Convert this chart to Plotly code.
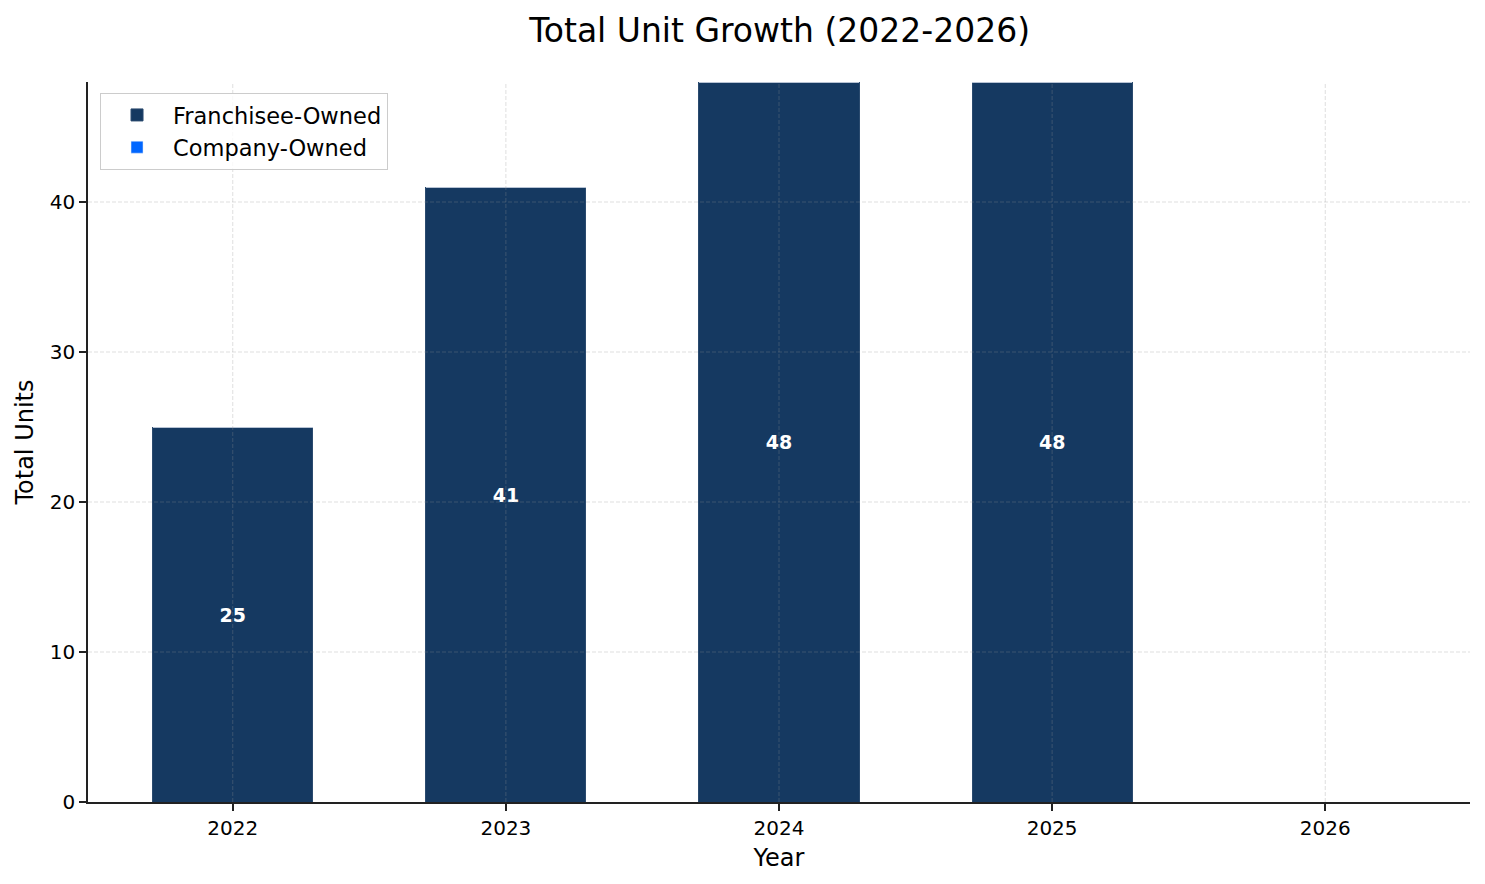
import plotly.graph_objects as go

years = ["2022", "2023", "2024", "2025", "2026"]
franchisee = [25, 41, 48, 48, 0]
company = [0, 0, 0, 0, 0]
y_ticks = [0, 10, 20, 30, 40]

FONT = "DejaVu Sans"
GRID = "rgba(150,150,150,0.3)"

fig = go.Figure()
fig.add_trace(go.Bar(
    x=years, y=franchisee, name="Franchisee-Owned",
    marker=dict(color="#153961", line=dict(color="#2a4a6e", width=1)),
    width=0.586,
    text=[str(v) if v > 0 else "" for v in franchisee],
    textposition="inside", insidetextanchor="middle", textangle=0,
    textfont=dict(family=FONT, size=19, color="white", weight="bold"),
    hoverinfo="x+y",
))
fig.add_trace(go.Bar(
    x=years, y=company, name="Company-Owned",
    marker=dict(color="#0066ff"),
    width=0.586,
    hoverinfo="x+y",
))

# grid lines drawn above the bars, as in the reference (category index positions)
for i, _ in enumerate(years):
    fig.add_shape(type="line", xref="x", yref="paper", x0=i, x1=i, y0=0, y1=1,
                  line=dict(color=GRID, width=1, dash="4px,2px"), layer="above")
for t in y_ticks[1:]:
    fig.add_shape(type="line", xref="paper", yref="y", x0=0, x1=1, y0=t, y1=t,
                  line=dict(color=GRID, width=1, dash="4px,2px"), layer="above")

fig.update_layout(
    barmode="stack",
    width=1485, height=884,
    margin=dict(l=88, r=15, t=82, b=82),
    paper_bgcolor="white", plot_bgcolor="white",
    font=dict(family=FONT, size=20, color="black"),
    title=dict(text="Total Unit Growth (2022-2026)", x=0.525, xanchor="center",
               y=0.966, yanchor="middle", font=dict(family=FONT, size=33, color="black")),
    legend=dict(x=0.0087, y=0.985, xanchor="left", yanchor="top",
                traceorder="normal",
                bordercolor="#cccccc", borderwidth=1, bgcolor="rgba(255,255,255,0.8)",
                font=dict(family=FONT, size=22.5, color="black"), itemwidth=62),
    showlegend=True,
)
fig.update_xaxes(
    type="category", range=[-0.53, 4.53],
    title=dict(text="Year", font=dict(family=FONT, size=24), standoff=10),
    showline=True, linecolor="#222222", linewidth=1.5, mirror=False,
    ticks="outside", ticklen=7, tickwidth=1.5, tickcolor="#222222",
    showgrid=False, layer="above traces", tickfont=dict(size=20),
)
fig.update_yaxes(
    range=[0, 48], tickvals=y_ticks,
    title=dict(text="Total Units", font=dict(family=FONT, size=24), standoff=9),
    showline=True, linecolor="#222222", linewidth=1.5, mirror=False,
    ticks="outside", ticklen=7, tickwidth=1.5, tickcolor="#222222",
    showgrid=False, zeroline=False, layer="above traces", tickfont=dict(size=20),
)

fig.write_html("out.html")
